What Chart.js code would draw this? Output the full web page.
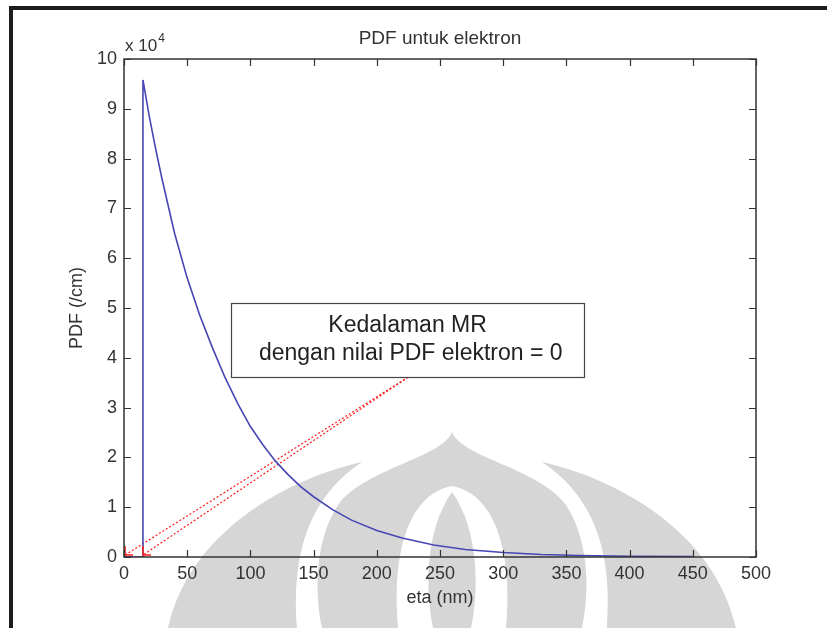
<!DOCTYPE html>
<html>
<head>
<meta charset="utf-8">
<script src="https://cdn.jsdelivr.net/npm/chart.js@4.4.1/dist/chart.umd.min.js"></script>
<style>
  html, body { margin: 0; padding: 0; background: #fff; }
  canvas { display: block; }
</style>
</head>
<body>
<canvas id="pdfChart" width="827" height="628"></canvas>
<script>
// PDF untuk elektron (PDF in /cm)
const etaNm = [0, 15, 15, 20, 25, 30, 40, 50, 60, 70, 80, 90, 100, 110, 120, 130, 140, 150, 165, 180, 200, 220, 245, 270, 300, 330, 360, 400, 450];
const pdfPerCm = [0, 0, 95800, 88500, 82000, 76000, 65000, 56000, 48500, 42000, 36000, 30800, 26200, 22500, 19200, 16500, 14100, 12100, 9500, 7400, 5300, 3800, 2400, 1500, 900, 500, 300, 150, 100];

// dashed pointer lines of the note (from the box down to the two depths)
const pointerStart = { eta: 224.7, pdf: 36100 };
const pointerEnds = [{ eta: 0.8, pdf: 400 }, { eta: 15, pdf: 400 }];

const xTicks = [0, 50, 100, 150, 200, 250, 300, 350, 400, 450, 500];
const yTicks = [0, 1, 2, 3, 4, 5, 6, 7, 8, 9, 10];

const titleText = 'PDF untuk elektron';
const noteLines = ['Kedalaman MR', ' dengan nilai PDF elektron = 0'];
const noteBox = { left: 84.7, right: 364, top: 51000, bottom: 36100 };

const FONT = "'Liberation Sans', Arial, sans-serif";
const TEXT = '#333';

// faint logo watermark of the scanned page
function drawWatermark(ctx) {
    ctx.save();
    ctx.fillStyle = '#d6d6d6';
    // left petal
    ctx.beginPath();
    ctx.moveTo(297, 628);
    ctx.bezierCurveTo(292, 560, 305, 500, 362, 462);
    ctx.bezierCurveTo(290, 478, 190, 530, 168, 628);
    ctx.closePath();
    ctx.fill();
    // right petal
    ctx.beginPath();
    ctx.moveTo(607, 628);
    ctx.bezierCurveTo(612, 560, 599, 500, 542, 462);
    ctx.bezierCurveTo(614, 478, 714, 530, 736, 628);
    ctx.closePath();
    ctx.fill();
    // centre dome
    ctx.beginPath();
    ctx.moveTo(452, 432);
    ctx.bezierCurveTo(442, 458, 365, 468, 338, 505);
    ctx.bezierCurveTo(312, 545, 316, 600, 322, 628);
    ctx.lineTo(582, 628);
    ctx.bezierCurveTo(588, 600, 592, 545, 566, 505);
    ctx.bezierCurveTo(539, 468, 462, 458, 452, 432);
    ctx.closePath();
    ctx.fill();
    // white inner arch
    ctx.fillStyle = '#fff';
    ctx.beginPath();
    ctx.moveTo(398, 628);
    ctx.bezierCurveTo(392, 560, 405, 495, 452, 486);
    ctx.bezierCurveTo(499, 495, 512, 560, 506, 628);
    ctx.closePath();
    ctx.fill();
    // centre leaf
    ctx.fillStyle = '#d6d6d6';
    ctx.beginPath();
    ctx.moveTo(452, 492);
    ctx.bezierCurveTo(425, 530, 425, 590, 433, 628);
    ctx.lineTo(471, 628);
    ctx.bezierCurveTo(479, 590, 479, 530, 452, 492);
    ctx.closePath();
    ctx.fill();
    ctx.restore();
}

const pagePlugin = {
    id: 'page',
    beforeDraw(chart) {
        const ctx = chart.ctx;
        ctx.save();
        ctx.fillStyle = '#fff';
        ctx.fillRect(0, 0, chart.width, chart.height);
        drawWatermark(ctx);
        // black frame from the scanned page
        ctx.fillStyle = '#1c1c1c';
        ctx.fillRect(9, 6, chart.width - 9, 4);
        ctx.fillRect(9, 6, 4, chart.height - 6);
        ctx.restore();
    },
    afterDatasetsDraw(chart) {
        const ctx = chart.ctx;
        const xs = chart.scales.x;
        const ys = chart.scales.y;

        // arrow heads at the ends of the pointer lines
        ctx.save();
        ctx.strokeStyle = '#ff1a1a';
        ctx.lineWidth = 1.5;
        pointerEnds.forEach(p => {
            const px = xs.getPixelForValue(p.eta);
            const py = ys.getPixelForValue(p.pdf);
            ctx.beginPath();
            ctx.moveTo(px, py - 9);
            ctx.lineTo(px, py);
            ctx.lineTo(px + 8, py);
            ctx.stroke();
        });
        ctx.restore();

        // note box
        const l = xs.getPixelForValue(noteBox.left);
        const r = xs.getPixelForValue(noteBox.right);
        const t = ys.getPixelForValue(noteBox.top);
        const b = ys.getPixelForValue(noteBox.bottom);
        ctx.save();
        ctx.fillStyle = '#fff';
        ctx.fillRect(l, t, r - l, b - t);
        ctx.strokeStyle = '#444';
        ctx.lineWidth = 1.2;
        ctx.strokeRect(Math.round(l) + 0.5, Math.round(t) + 0.5, Math.round(r - l), Math.round(b - t));
        ctx.fillStyle = '#222';
        ctx.font = '23px ' + FONT;
        ctx.textAlign = 'center';
        ctx.textBaseline = 'alphabetic';
        const cx = (l + r) / 2;
        ctx.fillText(noteLines[0], cx, t + 29);
        ctx.fillText(noteLines[1], cx, t + 57);
        ctx.restore();
    },
    afterDraw(chart) {
        const ctx = chart.ctx;
        const a = chart.chartArea;
        const xs = chart.scales.x;
        const ys = chart.scales.y;
        const tick = 7;
        ctx.save();
        ctx.strokeStyle = '#333';
        ctx.lineWidth = 1.5;
        ctx.strokeRect(a.left, a.top, a.right - a.left, a.bottom - a.top);
        ctx.lineWidth = 1.2;
        ctx.beginPath();
        xTicks.forEach(v => {
            const px = Math.round(xs.getPixelForValue(v)) + 0.5;
            ctx.moveTo(px, a.bottom); ctx.lineTo(px, a.bottom - tick);
            ctx.moveTo(px, a.top); ctx.lineTo(px, a.top + tick);
        });
        yTicks.forEach(v => {
            const py = Math.round(ys.getPixelForValue(v * 1e4)) + 0.5;
            ctx.moveTo(a.left, py); ctx.lineTo(a.left + tick, py);
            ctx.moveTo(a.right, py); ctx.lineTo(a.right - tick, py);
        });
        ctx.stroke();

        // title over the axes box
        ctx.fillStyle = TEXT;
        ctx.font = '19px ' + FONT;
        ctx.textAlign = 'center';
        ctx.textBaseline = 'middle';
        ctx.fillText(titleText, (a.left + a.right) / 2, 39);

        // exponent label
        ctx.textBaseline = 'alphabetic';
        ctx.textAlign = 'left';
        ctx.font = '17px ' + FONT;
        ctx.fillText('x 10', a.left + 1, a.top - 8);
        const w = ctx.measureText('x 10').width;
        ctx.font = '12px ' + FONT;
        ctx.fillText('4', a.left + 2 + w, a.top - 17);
        ctx.restore();
    }
};

const ctx = document.getElementById('pdfChart').getContext('2d');
new Chart(ctx, {
    type: 'line',
    data: {
        datasets: [
            {
                label: 'PDF',
                data: etaNm.map((x, i) => ({ x: x, y: pdfPerCm[i] })),
                borderColor: '#4646b4',
                borderWidth: 1.6,
                pointRadius: 0,
                tension: 0,
                fill: false
            },
            ...pointerEnds.map(p => ({
                label: 'pointer',
                data: [{ x: pointerStart.eta, y: pointerStart.pdf }, { x: p.eta, y: p.pdf }],
                borderColor: '#ff1a1a',
                borderWidth: 1.2,
                borderDash: [2, 2],
                pointRadius: 0,
                fill: false
            }))
        ]
    },
    options: {
        responsive: false,
        animation: false,
        layout: { padding: { left: 0, right: 71, top: 59, bottom: 0 } },
        plugins: {
            legend: { display: false },
            tooltip: { enabled: false },
            title: { display: false }
        },
        scales: {
            x: {
                type: 'linear',
                min: 0,
                max: 500,
                afterFit(scale) { scale.height = 71; },
                afterBuildTicks(scale) { scale.ticks = xTicks.map(v => ({ value: v })); },
                grid: { display: false, drawTicks: false },
                border: { display: false },
                ticks: {
                    color: TEXT,
                    padding: 6,
                    maxRotation: 0,
                    font: { family: FONT, size: 18 }
                },
                title: {
                    display: true,
                    text: 'eta (nm)',
                    color: TEXT,
                    font: { family: FONT, size: 18 },
                    padding: { top: 0, bottom: 19 }
                }
            },
            y: {
                type: 'linear',
                min: 0,
                max: 100000,
                afterFit(scale) { scale.width = 124; },
                afterBuildTicks(scale) { scale.ticks = yTicks.map(v => ({ value: v * 1e4 })); },
                grid: { display: false, drawTicks: false },
                border: { display: false },
                ticks: {
                    color: TEXT,
                    padding: 7,
                    font: { family: FONT, size: 18 },
                    callback: v => String(v / 1e4)
                },
                title: {
                    display: true,
                    text: 'PDF (/cm)',
                    color: TEXT,
                    font: { family: FONT, size: 18 },
                    padding: { top: 66, bottom: 0 }
                }
            }
        }
    },
    plugins: [pagePlugin]
});
</script>
</body>
</html>
